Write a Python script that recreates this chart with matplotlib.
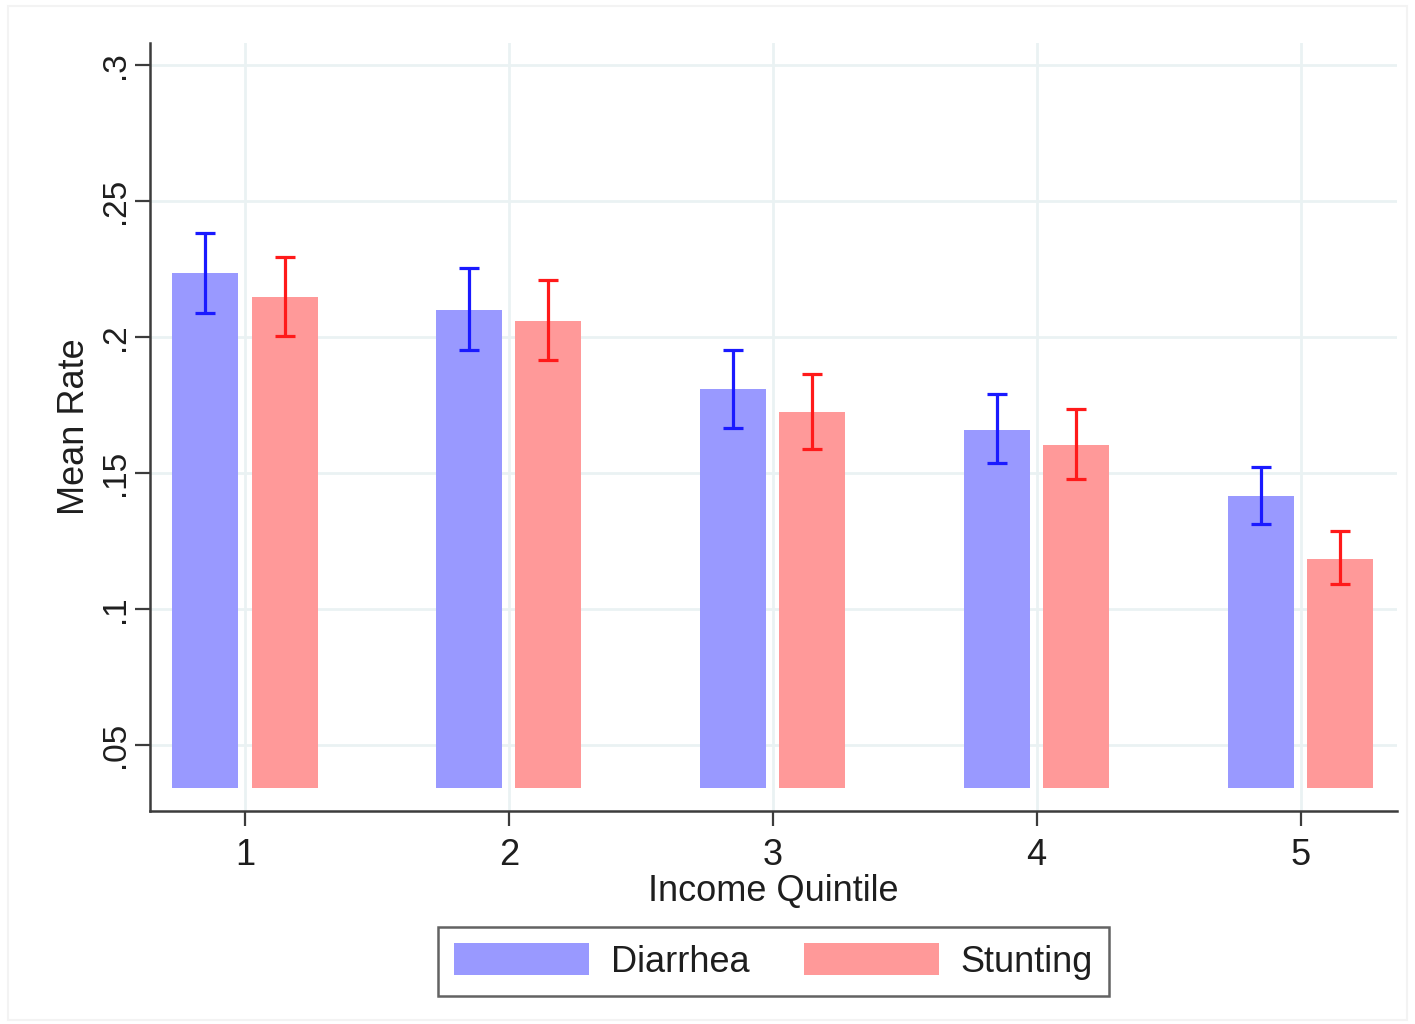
import numpy as np
import matplotlib
matplotlib.use('Agg')
import matplotlib.pyplot as plt
from matplotlib.patches import Rectangle

plt.rcParams['font.family'] = ['Liberation Sans', 'DejaVu Sans']

# ── Data ──────────────────────────────────────────────────────────────
quintiles = [1, 2, 3, 4, 5]
diarrhea = [0.2235, 0.2099, 0.1809, 0.1658, 0.1415]
diarrhea_lo = [0.2088, 0.1952, 0.1665, 0.1537, 0.1313]
diarrhea_hi = [0.2382, 0.2254, 0.1952, 0.1790, 0.1522]
stunting = [0.2147, 0.2059, 0.1724, 0.1603, 0.1184]
stunting_lo = [0.2004, 0.1915, 0.1588, 0.1478, 0.1092]
stunting_hi = [0.2294, 0.2210, 0.1864, 0.1735, 0.1287]
series_names = ['Diarrhea', 'Stunting']
ytick_vals = [0.05, 0.10, 0.15, 0.20, 0.25, 0.30]
ytick_text = ['.05', '.1', '.15', '.2', '.25', '.3']

# ── Style ─────────────────────────────────────────────────────────────
BLUE_FILL = '#9999ff'
RED_FILL = '#ff9999'
BLUE_LINE = '#1a1aff'
RED_LINE = '#ff1a1a'
GRID = '#eaf2f3'
AXIS = '#3c3c3c'
TEXT = '#1e1e1e'
BASE = 0.034
OFFSET, WIDTH = 0.15, 0.25

fig = plt.figure(figsize=(14.15, 10.24), dpi=100)
fig.patch.set_facecolor('white')
fig.add_artist(Rectangle((0.006, 0.004), 0.988, 0.99, transform=fig.transFigure,
                         fill=False, edgecolor='#f3f3f3', lw=1.5))
ax = fig.add_axes([0.106, 0.208, 0.881, 0.750])

x = np.array(quintiles, dtype=float)
d = np.array(diarrhea)
s = np.array(stunting)

ax.bar(x - OFFSET, d - BASE, WIDTH, bottom=BASE, color=BLUE_FILL,
       label=series_names[0], zorder=2)
ax.bar(x + OFFSET, s - BASE, WIDTH, bottom=BASE, color=RED_FILL,
       label=series_names[1], zorder=2)

d_err = [d - np.array(diarrhea_lo), np.array(diarrhea_hi) - d]
s_err = [s - np.array(stunting_lo), np.array(stunting_hi) - s]
ax.errorbar(x - OFFSET, d, yerr=d_err, fmt='none', ecolor=BLUE_LINE,
            elinewidth=2.3, capsize=7.5, capthick=2.3, zorder=3)
ax.errorbar(x + OFFSET, s, yerr=s_err, fmt='none', ecolor=RED_LINE,
            elinewidth=2.3, capsize=7.5, capthick=2.3, zorder=3)

ax.set_xlim(0.640, 5.364)
ax.set_ylim(0.0257, 0.3081)
ax.set_xticks(quintiles)
ax.set_xticklabels([str(q) for q in quintiles], fontsize=26, color=TEXT)
ax.set_yticks(ytick_vals)
ax.set_yticklabels(ytick_text, fontsize=24, color=TEXT, rotation=90,
                   va='center')

ax.grid(True, color=GRID, lw=2, zorder=0)
ax.set_axisbelow(True)
for side in ['top', 'right']:
    ax.spines[side].set_visible(False)
for side in ['left', 'bottom']:
    ax.spines[side].set_color(AXIS)
    ax.spines[side].set_linewidth(1.8)
ax.tick_params(axis='both', length=10.5, width=1.6, color=AXIS)
ax.tick_params(axis='y', pad=3)
ax.tick_params(axis='x', pad=9)

ax.set_xlabel('Income Quintile', fontsize=26, color=TEXT, labelpad=1)
ax.set_ylabel('Mean Rate', fontsize=26, color=TEXT, labelpad=6)

leg = fig.legend(loc='center', bbox_to_anchor=(0.5466, 0.061), ncol=2,
                 fontsize=26, frameon=True, fancybox=False,
                 handlelength=3.75, handleheight=0.97, handletextpad=0.6,
                 columnspacing=1.5, borderpad=0.45, borderaxespad=0)
leg.get_frame().set_edgecolor(AXIS)
leg.get_frame().set_linewidth(1.8)
for t in leg.get_texts():
    t.set_color(TEXT)

fig.savefig('out.png', dpi=100, facecolor='white')
